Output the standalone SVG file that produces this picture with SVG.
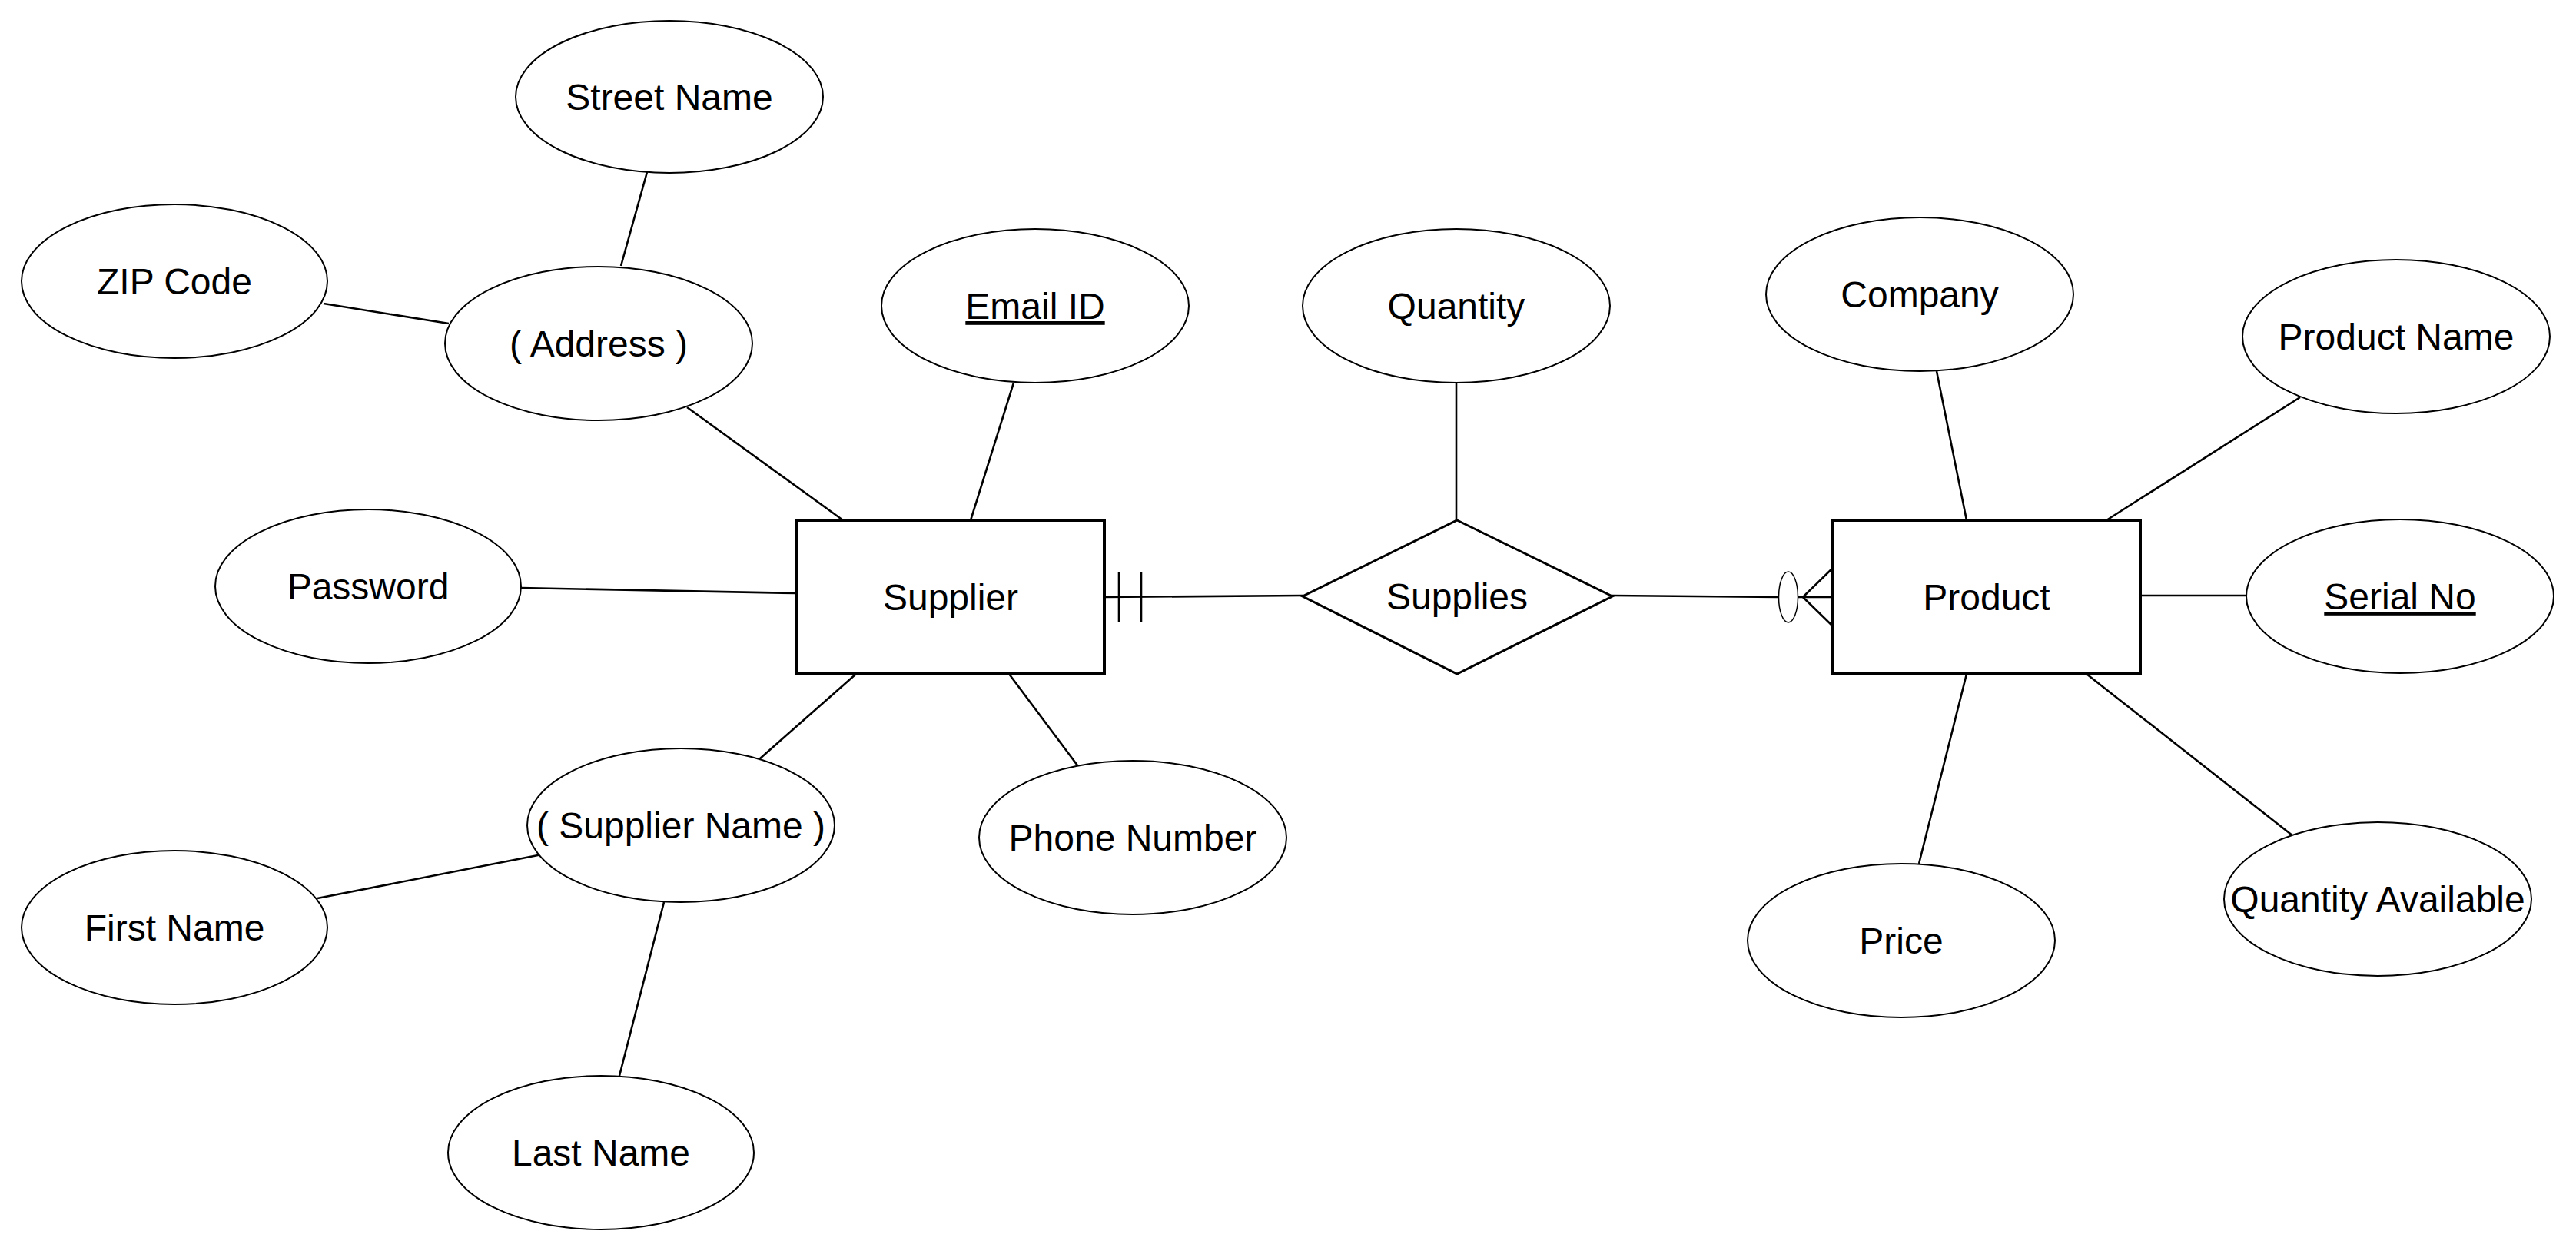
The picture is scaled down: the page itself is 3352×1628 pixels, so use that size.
<svg xmlns="http://www.w3.org/2000/svg" width="3352" height="1628" viewBox="0 0 3352 1628">
<style>
.attr{fill:#fff;stroke:#000;stroke-width:2}
.ent{fill:#fff;stroke:#000;stroke-width:4}
.rel{fill:#fff;stroke:#000;stroke-width:3}
.lbl{font-family:"Liberation Sans",Arial,Helvetica,sans-serif;font-size:48px;fill:#000;text-anchor:middle}
.key{text-decoration:underline}
.conn line{stroke:#000;stroke-width:2.6;fill:none}
</style>
<rect width="3352" height="1628" fill="#fff"/>
<g id="connectors" class="conn">
<line x1="842" y1="224" x2="808" y2="346"/>
<line x1="421" y1="395" x2="584" y2="421"/>
<line x1="894" y1="530" x2="1097" y2="677"/>
<line x1="1319" y1="498" x2="1263" y2="677"/>
<line x1="678" y1="765" x2="1037" y2="772"/>
<line x1="1895" y1="498" x2="1895" y2="677"/>
<line x1="1114" y1="877" x2="988" y2="988"/>
<line x1="1313" y1="877" x2="1402" y2="996"/>
<line x1="705" y1="1112" x2="413" y2="1169"/>
<line x1="864" y1="1174" x2="806" y2="1400"/>
<line x1="2520" y1="483" x2="2559" y2="677"/>
<line x1="2993" y1="517" x2="2741" y2="677"/>
<line x1="2785" y1="775" x2="2922" y2="775"/>
<line x1="2559" y1="877" x2="2497" y2="1124"/>
<line x1="2715" y1="877" x2="2984" y2="1088"/>
<line x1="1437" y1="777" x2="1695" y2="775"/>
<line x1="1456" y1="745" x2="1456" y2="809"/>
<line x1="1485" y1="745" x2="1485" y2="809"/>
<line x1="2098" y1="775" x2="2315" y2="777"/>
<line x1="2340" y1="777" x2="2384" y2="777"/>
<line x1="2346" y1="777" x2="2384" y2="740"/>
<line x1="2346" y1="777" x2="2384" y2="814"/>
<ellipse cx="2327" cy="777" rx="12.5" ry="33" fill="#fff" stroke="#000" stroke-width="1.5"/>
</g>
<g id="street-name"><ellipse class="attr" cx="871" cy="126" rx="200" ry="99"/><text class="lbl" x="871" y="143">Street Name</text></g>
<g id="zip-code"><ellipse class="attr" cx="227" cy="366" rx="199" ry="100"/><text class="lbl" x="227" y="383">ZIP Code</text></g>
<g id="address"><ellipse class="attr" cx="779" cy="447" rx="200" ry="100"/><text class="lbl" x="779" y="464">( Address )</text></g>
<g id="email-id"><ellipse class="attr" cx="1347" cy="398" rx="200" ry="100"/><text class="lbl key" x="1347" y="415">Email ID</text></g>
<g id="quantity"><ellipse class="attr" cx="1895" cy="398" rx="200" ry="100"/><text class="lbl" x="1895" y="415">Quantity</text></g>
<g id="company"><ellipse class="attr" cx="2498" cy="383" rx="200" ry="100"/><text class="lbl" x="2498" y="400">Company</text></g>
<g id="product-name"><ellipse class="attr" cx="3118" cy="438" rx="200" ry="100"/><text class="lbl" x="3118" y="455">Product Name</text></g>
<g id="password"><ellipse class="attr" cx="479" cy="763" rx="199" ry="100"/><text class="lbl" x="479" y="780">Password</text></g>
<g id="serial-no"><ellipse class="attr" cx="3123" cy="776" rx="200" ry="100"/><text class="lbl key" x="3123" y="793">Serial No</text></g>
<g id="supplier-name"><ellipse class="attr" cx="886" cy="1074" rx="200" ry="100"/><text class="lbl" x="886" y="1091">( Supplier Name )</text></g>
<g id="phone-number"><ellipse class="attr" cx="1474" cy="1090" rx="200" ry="100"/><text class="lbl" x="1474" y="1107">Phone Number</text></g>
<g id="first-name"><ellipse class="attr" cx="227" cy="1207" rx="199" ry="100"/><text class="lbl" x="227" y="1224">First Name</text></g>
<g id="last-name"><ellipse class="attr" cx="782" cy="1500" rx="199" ry="100"/><text class="lbl" x="782" y="1517">Last Name</text></g>
<g id="price"><ellipse class="attr" cx="2474" cy="1224" rx="200" ry="100"/><text class="lbl" x="2474" y="1241">Price</text></g>
<g id="quantity-available"><ellipse class="attr" cx="3094" cy="1170" rx="200" ry="100"/><text class="lbl" x="3094" y="1187">Quantity Available</text></g>
<g id="supplier"><rect class="ent" x="1037" y="677" width="400" height="200"/><text class="lbl" x="1237" y="794">Supplier</text></g>
<g id="supplies"><polygon class="rel" points="1896,677 2098,776 1896,877 1695,776"/><text class="lbl" x="1896" y="793">Supplies</text></g>
<g id="product"><rect class="ent" x="2384" y="677" width="401" height="200"/><text class="lbl" x="2585" y="794">Product</text></g>
</svg>
